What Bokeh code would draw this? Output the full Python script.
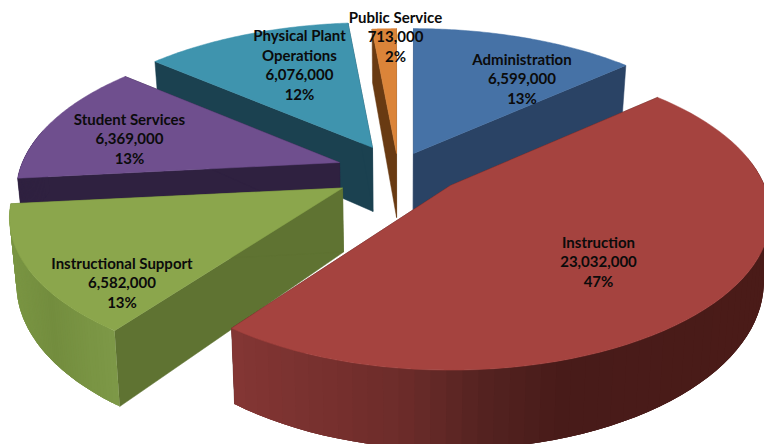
import numpy as np
from bokeh.core.properties import value
from bokeh.embed import file_html
from bokeh.models import Range1d
from bokeh.plotting import figure
from bokeh.resources import INLINE

# Budget by function
categories = ["Administration", "Instruction", "Instructional Support",
              "Student Services", "Physical Plant\nOperations", "Public Service"]
amounts = [6599000, 23032000, 6582000, 6369000, 6076000, 713000]
percents = [13, 47, 13, 13, 12, 2]

# Perspective of the pie plane, in page pixels
RX, RY, PERSP = 322.0, 149.0, 0.193
DEPTH = 64.0
WALL_PINCH, PINCH_X = 0.018, 400.0

# Where each exploded slice has its tip, its sideways spread, and where its label sits
tips = [(413, 153), (450, 185), (342, 187.5), (339, 162), (372, 147), (396, 153)]
spread = [1.0, 0.975, 1.015, 0.985, 1.0, 1.0]
label_anchor = [(521.5, 58.5), (598, 241.5), (121.5, 262.5), (129, 118.5), (299, 34.5), (395, 16.5)]
LINE_STEP = 19.5

top_colors = ["#4672a6", "#a5433f", "#8ba64c", "#6f4f8e", "#3f94ae", "#db8439"]
wall_colors = ["#2a4365", "#4a1c1a", "#5f7332", "#2f2140", "#1b4150", "#693a12"]
rim_stops = [
    [(0, "#2a4365"), (764, "#2a4365")],
    [(229, "#843634"), (400, "#6d2c2a"), (480, "#552321"), (560, "#481b19"), (764, "#4a1b18")],
    [(10, "#7a9543"), (50, "#738d3e"), (90, "#7a9544"), (125, "#7f9a49")],
    [(0, "#2f2140"), (764, "#2f2140")],
    [(0, "#1b4150"), (764, "#1b4150")],
    [(0, "#693a12"), (764, "#693a12")],
]
draw_order = [4, 3, 2, 5, 0, 1]


def project(tip, deg, stretch):
    t = np.radians(deg)
    w = 1 + PERSP * np.cos(t)
    return tip[0] + stretch * RX * np.sin(t) / w, tip[1] - RY * np.cos(t) / w, w


def drop(x, y, w):
    return x + (PINCH_X - x) * WALL_PINCH, y + DEPTH / w


def hex_rgb(c):
    return np.array([int(c[i:i + 2], 16) for i in (1, 3, 5)], dtype=float)


def shade(stops, x):
    xs = [s[0] for s in stops]
    rgb = np.array([hex_rgb(s[1]) for s in stops])
    mixed = [np.interp(x, xs, rgb[:, k]) for k in range(3)]
    return "#%02x%02x%02x" % tuple(int(round(m)) for m in mixed)


p = figure(width=764, height=444, output_backend="svg", toolbar_location=None,
           x_range=Range1d(0, 764), y_range=Range1d(444, 0), min_border=0)
p.axis.visible = False
p.grid.visible = False
p.outline_line_color = None
p.background_fill_color = "#ffffff"
p.border_fill_color = "#ffffff"

ends = np.cumsum(amounts) / np.sum(amounts) * 360.0
starts = np.concatenate([[0.0], ends[:-1]])

for i in draw_order:
    tip = tips[i]
    theta = np.linspace(starts[i], ends[i], 72)
    rx, ry, rw = project(tip, theta, spread[i])
    bx, by = drop(rx, ry, rw)
    tbx, tby = drop(tip[0], tip[1], 1.0)

    # The two straight cut faces
    for k in (0, -1):
        p.patch([tip[0], rx[k], bx[k], tbx], [tip[1], ry[k], by[k], tby],
                fill_color=wall_colors[i], line_color=wall_colors[i], line_width=0.5)

    # Curved outer wall: each strip runs under the next so no seams show
    for j in range(len(theta) - 1):
        if np.cos(np.radians(theta[j])) > 0.2:
            continue
        e = min(j + 3, len(theta) - 1)
        fill = shade(rim_stops[i], (rx[j] + rx[j + 1]) / 2)
        p.patch([*rx[j:e + 1], *bx[j:e + 1][::-1]], [*ry[j:e + 1], *by[j:e + 1][::-1]],
                fill_color=fill, line_color=None)

    # Upper face
    p.patch([tip[0], *rx], [tip[1], *ry], fill_color=top_colors[i],
            line_color=top_colors[i], line_width=0.5)

# Labels go on last so that no slice covers them
tx, ty, tt = [], [], []
for i, name in enumerate(categories):
    lines = name.split("\n") + [f"{amounts[i]:,}", f"{percents[i]}%"]
    for n, line in enumerate(lines):
        tx.append(label_anchor[i][0])
        ty.append(label_anchor[i][1] + n * LINE_STEP)
        tt.append(line)
p.text(tx, ty, text=tt, text_font=value("Lato"), text_font_style="bold",
       text_font_size="15px", text_color="#0b0b0b",
       text_align="center", text_baseline="middle")

open("out.html", "w").write(file_html(p, INLINE))
